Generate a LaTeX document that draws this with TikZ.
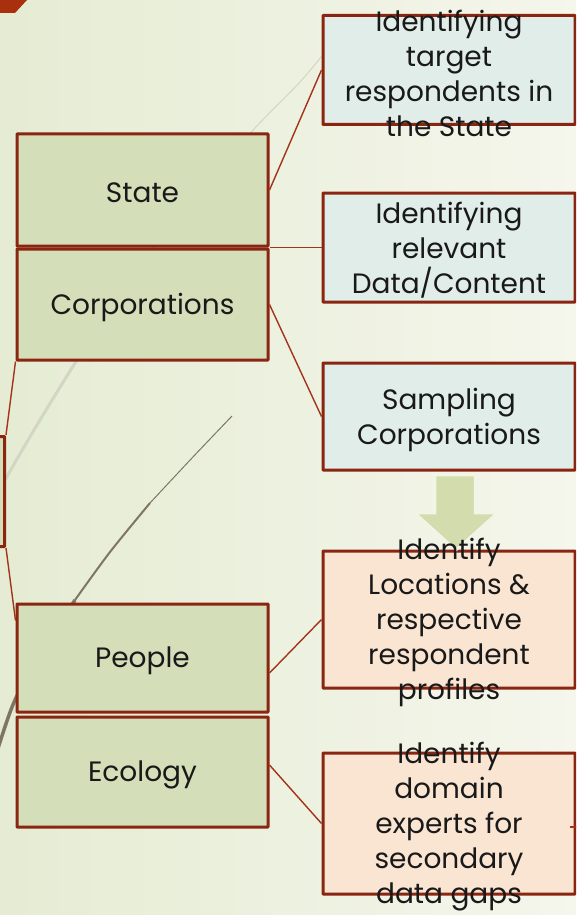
\documentclass[tikz,border=0pt]{standalone}
\usepackage{fontspec}
\setmainfont{Poppins}
\definecolor{bord}{HTML}{8A2512}
\definecolor{conncol}{HTML}{A3341A}
\definecolor{gfill}{HTML}{D4DEB8}
\definecolor{bfill}{HTML}{E1EDE9}
\definecolor{pfill}{HTML}{FAE5D3}
\definecolor{bgl}{HTML}{E5ECD3}
\definecolor{bgr}{HTML}{F5F6EC}
\definecolor{arrfill}{HTML}{D2DCAC}
\definecolor{lightcurve}{HTML}{D3D6C4}
\definecolor{browncurve}{HTML}{7E7662}
\definecolor{corner}{HTML}{A8300E}
\begin{document}
\begin{tikzpicture}[x=1pt,y=-1pt,
  box/.style={draw=bord,line width=3pt,rounded corners=0.5pt,inner sep=0pt},
  gbox/.style={box,fill=gfill,minimum width=251pt},
  bbox/.style={box,fill=bfill,minimum width=252pt},
  pbox/.style={box,fill=pfill,minimum width=252pt},
  txt/.style={align=center,inner sep=0pt,font=\fontsize{28}{35}\selectfont,text=black!90,yshift=-3pt},
  conn/.style={draw=conncol,line width=1.4pt}]
\useasboundingbox (0,0) rectangle (576,915);
\clip (0,0) rectangle (576,915);
\shade[left color=bgl,right color=bgr] (0,0) rectangle (576,915);
% decorative curves
\draw[lightcurve,line width=1pt] plot[smooth] coordinates {(335,40) (300,82) (255,128) (205,186)};
\draw[lightcurve,line width=2pt] plot[smooth] coordinates {(205,186) (153,248) (110,310)};
\draw[lightcurve,line width=3pt] plot[smooth] coordinates {(110,310) (77,360) (40,420) (5,480) (-10,510)};
\draw[browncurve,line width=1pt] plot[smooth] coordinates {(232,416) (192,458) (150,503)};
\draw[browncurve,line width=2pt] plot[smooth] coordinates {(150,503) (110,552) (75,600)};
\draw[browncurve,line width=3.5pt] plot[smooth] coordinates {(75,600) (40,655) (15,700) (0,742) (-5,760)};
% corner mark
\fill[corner] (0,0) -- (27,0) -- (15,13) -- (0,13) -- cycle;
% boxes
\node[gbox,minimum height=112pt] (state) at (142.5,190) {};
\node[gbox,minimum height=111pt] (corp) at (142.5,304.5) {};
\node[gbox,minimum height=108pt] (people) at (142.5,658) {};
\node[gbox,minimum height=110pt] (ecology) at (142.5,772) {};
\node[gbox,minimum height=110pt] (pb) at (-121,491.5) {};
\node[bbox,minimum height=109pt] (b1) at (449,70) {};
\node[bbox,minimum height=109pt] (b2) at (449,247.5) {};
\node[bbox,minimum height=107pt] (b3) at (449,416.5) {};
\node[pbox,minimum height=137pt] (b4) at (449,619.5) {};
\node[pbox,minimum height=141pt] (b5) at (449,823.5) {};
% connectors
\coordinate (off3) at (590,416.5);
\coordinate (off5) at (590,827);
\draw[conn] (state.east) -- (b1.west);
\draw[conn] (corp.north east) -- (b2.west);
\draw[conn] (corp.east) -- (b3.west);
\draw[conn] ([yshift=-15pt]people.east) -- (b4.west);
\draw[conn] ([yshift=7pt]ecology.east) -- (b5.west);
\draw[conn] (pb.north east) -- (corp.south west);
\draw[conn] (pb.south east) -- ([yshift=-18pt]people.north west);
\draw[conn] (b3.east) -- (off3);
\draw[conn] ([xshift=-7pt,yshift=-3.5pt]b5.east) -- (off5);
% block arrow
\filldraw[fill=arrfill,draw=white!70!arrfill,line width=2.5pt,line join=miter]
  (435,475) -- (475,475) -- (475,513) -- (497,513) -- (456,550) -- (415,513) -- (435,513) -- cycle;
% texts
\node[txt] (tstate) at (state.center) {State};
\node[txt] (tcorp) at (corp.center) {Corporations};
\node[txt] (tpeople) at (people.center) {People};
\node[txt] (tecology) at (ecology.center) {Ecology};
\node[txt] (t1) at (b1.center) {Identifying\\target\\respondents in\\the State};
\node[txt] (t2) at (b2.center) {Identifying\\relevant\\Data/Content};
\node[txt] (t3) at (b3.center) {Sampling\\Corporations};
\node[txt] (t4) at (b4.center) {Identify\\Locations \&\\respective\\respondent\\profiles};
\node[txt] (t5) at (b5.center) {Identify\\domain\\experts for\\secondary\\data gaps};
\end{tikzpicture}
\end{document}
